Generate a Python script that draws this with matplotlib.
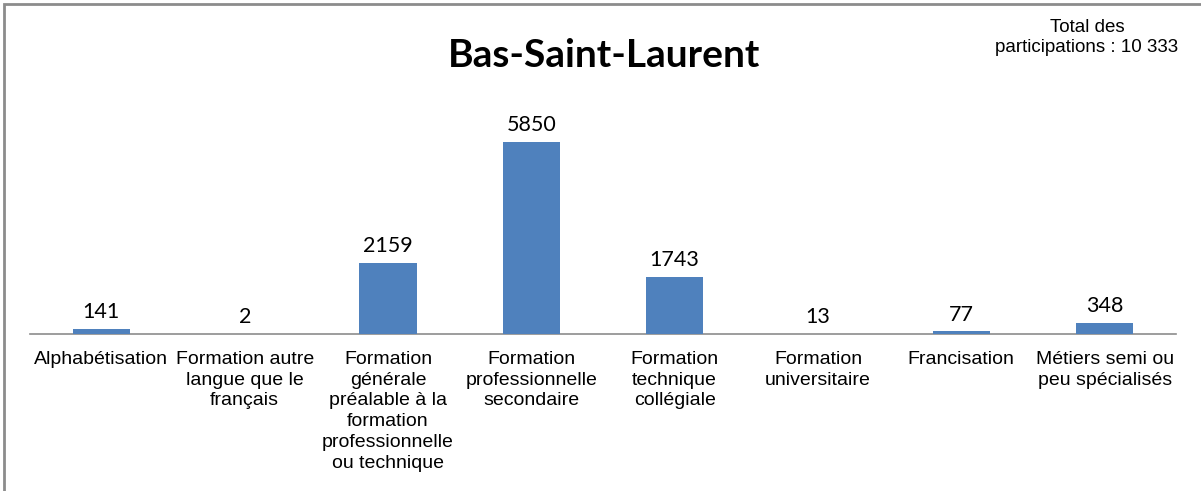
import matplotlib.pyplot as plt
from matplotlib.patches import Rectangle

categories = [
    "Alphabétisation",
    "Formation autre\nlangue que le\nfrançais",
    "Formation\ngénérale\npréalable à la\nformation\nprofessionnelle\nou technique",
    "Formation\nprofessionnelle\nsecondaire",
    "Formation\ntechnique\ncollégiale",
    "Formation\nuniversitaire",
    "Francisation",
    "Métiers semi ou\npeu spécialisés",
]
values = [141, 2, 2159, 5850, 1743, 13, 77, 348]
title = "Bas-Saint-Laurent"
total_text = "Total des\nparticipations : 10 333"

bar_color = "#4F81BD"

fig = plt.figure(figsize=(12.01, 4.91), dpi=100)

# gray frame, cropped on the right and bottom like the original
fig.patches.append(Rectangle((4 / 1201, -0.1), 1.2, 1 - 4 / 491 + 0.1,
                             transform=fig.transFigure, fill=False,
                             edgecolor="#8c8c8c", linewidth=2))

ax = fig.add_axes([29.75 / 1201, 157 / 491, 1146.5 / 1201, 230 / 491])
x = list(range(len(values)))
bars = ax.bar(x, values, width=0.4, color=bar_color, zorder=3)

ax.set_xlim(-0.5, len(values) - 0.5)
ax.set_ylim(0, 7000)

for xi, v in zip(x, values):
    ax.annotate(str(v), (xi, v), xytext=(0, 5), textcoords="offset points",
                ha="center", va="bottom", fontsize=15.5, family="Lato")

for s in ["top", "right", "left"]:
    ax.spines[s].set_visible(False)
ax.spines["bottom"].set_color("#8c8c8c")
ax.spines["bottom"].set_linewidth(1.2)
ax.set_yticks([])
ax.set_xticks(x)
ax.set_xticklabels(categories, fontsize=14, family="Liberation Sans",
                   linespacing=1.3)
ax.tick_params(axis="x", length=0, pad=12)

fig.text(604 / 1201, 1 - 67 / 491, title, ha="center", va="baseline",
         fontsize=28, fontweight="bold", family="Lato")
fig.text(1087 / 1201, 1 - 52 / 491, total_text, ha="center", va="baseline",
         fontsize=13.5, family="Liberation Sans", linespacing=1.2)

fig.savefig("out.png", dpi=100)
